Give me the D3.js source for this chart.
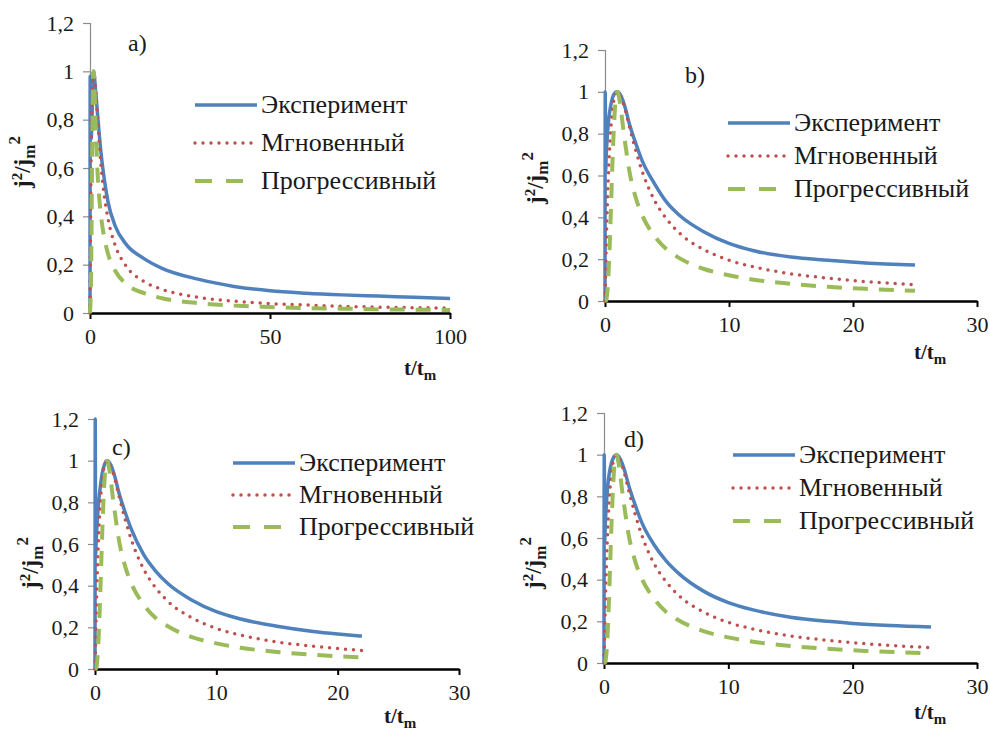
<!DOCTYPE html>
<html>
<head>
<meta charset="utf-8">
<script src="https://cdn.jsdelivr.net/npm/d3@7"></script>
<style>
  body { margin: 0; background: #fff; }
</style>
</head>
<body>
<div id="vis"></div>
<script>
const serif = "'Liberation Serif', 'DejaVu Serif', 'Times New Roman', serif";

// series names
const seriesNames = ['Эксперимент', 'Мгновенный', 'Прогрессивный'];
const yTicks = [0, 0.2, 0.4, 0.6, 0.8, 1, 1.2];

// panel a) values
const tExpA = [0, 0.05, 0.3, 1, 1.5, 2, 3, 4, 5, 7, 10, 15, 20, 30, 40, 50, 60, 70, 80, 90, 100];
const expA = [0, 0.98, 0.72, 1, 0.93, 0.84, 0.67, 0.55, 0.46, 0.36, 0.285, 0.225, 0.185, 0.14, 0.11, 0.092, 0.082, 0.075, 0.07, 0.065, 0.06];
const tModA = [0, 0.3, 0.6, 1, 1.5, 2, 3, 4, 5, 7, 10, 15, 20, 30, 40, 50, 60, 70, 80, 90, 100];
const instA = [0, 0.64, 0.91, 1, 0.94, 0.83, 0.62, 0.48, 0.39, 0.28, 0.195, 0.13, 0.098, 0.065, 0.049, 0.039, 0.033, 0.028, 0.024, 0.022, 0.02];
const progA = [0, 0.15, 0.66, 1, 0.81, 0.61, 0.41, 0.31, 0.245, 0.175, 0.12, 0.082, 0.061, 0.041, 0.031, 0.025, 0.02, 0.018, 0.015, 0.014, 0.012];

// panel b)
const tExpB = [0, 0.02, 0.05, 0.1, 0.2, 0.3, 0.45, 0.6, 0.8, 1, 1.3, 1.6, 2, 2.5, 3, 4, 5, 6, 8, 10, 12, 15, 18, 21, 25];
const expB = [0, 1, 0.62, 0.7, 0.8, 0.87, 0.93, 0.97, 0.995, 1, 0.98, 0.93, 0.84, 0.75, 0.67, 0.56, 0.47, 0.41, 0.33, 0.275, 0.24, 0.21, 0.195, 0.182, 0.172];
const tModB = [0, 0.1, 0.2, 0.3, 0.4, 0.5, 0.6, 0.7, 0.8, 0.9, 1, 1.2, 1.5, 2, 2.5, 3, 4, 5, 6, 8, 10, 12, 15, 18, 21, 25];
const instB = [0, 0.27, 0.48, 0.64, 0.76, 0.85, 0.91, 0.955, 0.98, 0.995, 1, 0.985, 0.94, 0.825, 0.715, 0.62, 0.48, 0.39, 0.325, 0.245, 0.195, 0.163, 0.13, 0.109, 0.093, 0.078];
const progB = [0, 0.003, 0.05, 0.15, 0.3, 0.48, 0.66, 0.81, 0.92, 0.98, 1, 0.95, 0.81, 0.61, 0.49, 0.41, 0.31, 0.245, 0.205, 0.153, 0.123, 0.102, 0.082, 0.068, 0.058, 0.049];

// panel c)
const tExpC = [0, 0.02, 0.05, 0.1, 0.2, 0.3, 0.45, 0.6, 0.8, 1, 1.3, 1.6, 2, 2.5, 3, 4, 5, 6, 8, 10, 12, 15, 18, 20, 22];
const expC = [0, 1.2, 0.55, 0.62, 0.72, 0.8, 0.88, 0.94, 0.985, 1, 0.98, 0.93, 0.84, 0.75, 0.67, 0.55, 0.47, 0.41, 0.33, 0.275, 0.24, 0.205, 0.18, 0.168, 0.158];
const tModC = [0, 0.1, 0.2, 0.3, 0.4, 0.5, 0.6, 0.7, 0.8, 0.9, 1, 1.2, 1.5, 2, 2.5, 3, 4, 5, 6, 8, 10, 12, 15, 18, 20, 22];
const instC = [0, 0.27, 0.48, 0.64, 0.76, 0.85, 0.91, 0.955, 0.98, 0.995, 1, 0.985, 0.94, 0.825, 0.715, 0.62, 0.48, 0.39, 0.325, 0.245, 0.195, 0.163, 0.13, 0.109, 0.098, 0.089];
const progC = [0, 0.003, 0.05, 0.15, 0.3, 0.48, 0.66, 0.81, 0.92, 0.98, 1, 0.95, 0.81, 0.61, 0.49, 0.41, 0.31, 0.245, 0.205, 0.153, 0.123, 0.102, 0.082, 0.068, 0.061, 0.056];

// panel d)
const tExpD = [0, 0.02, 0.05, 0.1, 0.2, 0.3, 0.45, 0.6, 0.8, 1, 1.3, 1.6, 2, 2.5, 3, 4, 5, 6, 8, 10, 12, 15, 18, 20, 23, 26.3];
const expD = [0, 1, 0.58, 0.66, 0.77, 0.85, 0.92, 0.96, 0.99, 1, 0.98, 0.935, 0.85, 0.76, 0.68, 0.57, 0.49, 0.43, 0.345, 0.29, 0.255, 0.22, 0.2, 0.19, 0.18, 0.173];
const tModD = [0, 0.1, 0.2, 0.3, 0.4, 0.5, 0.6, 0.7, 0.8, 0.9, 1, 1.2, 1.5, 2, 2.5, 3, 4, 5, 6, 8, 10, 12, 15, 18, 21, 24, 26.3];
const instD = [0, 0.27, 0.48, 0.64, 0.76, 0.85, 0.91, 0.955, 0.98, 0.995, 1, 0.985, 0.94, 0.825, 0.715, 0.62, 0.48, 0.39, 0.325, 0.245, 0.195, 0.163, 0.13, 0.109, 0.093, 0.081, 0.074];
const progD = [0, 0.003, 0.05, 0.15, 0.3, 0.48, 0.66, 0.81, 0.92, 0.98, 1, 0.95, 0.81, 0.61, 0.49, 0.41, 0.31, 0.245, 0.205, 0.153, 0.123, 0.102, 0.082, 0.068, 0.058, 0.051, 0.047];

const styles = [
  { color: '#4f81bd', width: 3.5, dash: null, cap: 'butt' },
  { color: '#c0504d', width: 3.5, dash: '0,8', cap: 'round' },
  { color: '#9bbb59', width: 4, dash: '15,11', cap: 'butt' },
];

const svg = d3.select('#vis').append('svg')
  .attr('width', 990)
  .attr('height', 733)
  .style('background-color', 'white')
  .style('font-family', serif);

const panels = [
  { name: 'a)', xMax: 100, xTicks: [0, 50, 100], left: 90, right: 450, top: 23, bottom: 313,
    series: [[tExpA, expA], [tModA, instA], [tModA, progA]],
    nameAt: [128, 51], legendAt: [195, 105, 38], yTitleAt: [30, 162], xTitleAt: [404, 375] },
  { name: 'b)', xMax: 30, xTicks: [0, 10, 20, 30], left: 605, right: 977, top: 50, bottom: 301,
    series: [[tExpB, expB], [tModB, instB], [tModB, progB]],
    nameAt: [685, 83], legendAt: [728, 123, 33], yTitleAt: [543, 178], xTitleAt: [914, 359] },
  { name: 'c)', xMax: 30, xTicks: [0, 10, 20, 30], left: 95, right: 459, top: 419, bottom: 669,
    series: [[tExpC, expC], [tModC, instC], [tModC, progC]],
    nameAt: [112, 455], legendAt: [233, 463, 32], yTitleAt: [38, 563], xTitleAt: [384, 723] },
  { name: 'd)', xMax: 30, xTicks: [0, 10, 20, 30], left: 604, right: 977, top: 413, bottom: 663,
    series: [[tExpD, expD], [tModD, instD], [tModD, progD]],
    nameAt: [624, 447], legendAt: [733, 455, 33], yTitleAt: [541, 563], xTitleAt: [914, 719] },
];

panels.forEach(drawPanel);

function drawPanel(p) {
  const g = svg.append('g');
  const x = d3.scaleLinear().domain([0, p.xMax]).range([p.left, p.right]);
  const y = d3.scaleLinear().domain([0, 1.2]).range([p.bottom, p.top]);

  // y axis: thin grey
  const yAxis = g.append('g')
    .attr('transform', `translate(${p.left},0)`)
    .call(d3.axisLeft(y).tickValues(yTicks).tickSize(7).tickPadding(9)
      .tickFormat(d => String(+d.toFixed(1)).replace('.', ',')));
  yAxis.attr('font-family', null);
  yAxis.select('.domain').attr('stroke', '#8c8c8c').attr('stroke-width', 1.2);
  yAxis.selectAll('.tick line').attr('stroke', '#8c8c8c').attr('stroke-width', 1.2);
  yAxis.selectAll('.tick text').style('font-size', '22px').style('font-family', serif).attr('fill', '#1a1a1a');

  // x axis: thick black
  const xAxis = g.append('g')
    .attr('transform', `translate(0,${p.bottom})`)
    .call(d3.axisBottom(x).tickValues(p.xTicks).tickSize(6).tickPadding(9).tickSizeOuter(0));
  xAxis.attr('font-family', null);
  xAxis.select('.domain').attr('stroke', '#000').attr('stroke-width', 2.6);
  xAxis.selectAll('.tick line').attr('stroke', '#000').attr('stroke-width', 2);
  xAxis.selectAll('.tick text').style('font-size', '22px').style('font-family', serif).attr('fill', '#1a1a1a');

  // curves
  const line = d3.line().x(d => x(d[0])).y(d => y(d[1])).curve(d3.curveMonotoneX);
  p.series.forEach((s, i) => {
    const pts = s[0].map((t, k) => [t, s[1][k]]);
    const st = styles[i];
    g.append('path')
      .datum(pts)
      .attr('d', line)
      .attr('fill', 'none')
      .attr('stroke', st.color)
      .attr('stroke-width', st.width)
      .attr('stroke-linecap', st.cap)
      .attr('stroke-linejoin', 'round')
      .attr('stroke-dasharray', st.dash);
  });

  // panel label
  g.append('text').attr('x', p.nameAt[0]).attr('y', p.nameAt[1])
    .style('font-family', serif).style('font-size', '24px').attr('fill', '#1a1a1a')
    .text(p.name);

  // legend
  seriesNames.forEach((n, i) => {
    const st = styles[i];
    const ly = p.legendAt[1] + i * p.legendAt[2];
    g.append('line')
      .attr('x1', p.legendAt[0]).attr('x2', p.legendAt[0] + 62)
      .attr('y1', ly).attr('y2', ly)
      .attr('stroke', st.color)
      .attr('stroke-width', st.width)
      .attr('stroke-linecap', st.cap)
      .attr('stroke-dasharray', i === 2 ? '17,14' : st.dash);
    g.append('text')
      .attr('x', p.legendAt[0] + 66).attr('y', ly + 8)
      .style('font-family', serif).style('font-size', '26px').attr('fill', '#1a1a1a')
      .text(n);
  });

  // y title j²/jm²
  const yt = g.append('text')
    .attr('transform', `translate(${p.yTitleAt[0]},${p.yTitleAt[1]}) rotate(-90)`)
    .attr('text-anchor', 'middle')
    .attr('fill', '#1a1a1a')
    .style('font-family', serif)
    .style('font-size', '23px')
    .style('font-weight', 'bold');
  yt.append('tspan').text('j');
  yt.append('tspan').attr('dy', -8).style('font-size', '15px').text('2');
  yt.append('tspan').attr('dy', 8).text('/j');
  yt.append('tspan').attr('dy', 5).style('font-size', '17px').text('m');
  yt.append('tspan').attr('dy', -15).style('font-size', '17px').text('2');

  // x title t/tm
  const xt = g.append('text')
    .attr('x', p.xTitleAt[0]).attr('y', p.xTitleAt[1])
    .attr('fill', '#1a1a1a')
    .style('font-family', serif)
    .style('font-size', '21px')
    .style('font-weight', 'bold');
  xt.append('tspan').text('t/t');
  xt.append('tspan').attr('dy', 5).style('font-size', '15px').text('m');
}
</script>
</body>
</html>
